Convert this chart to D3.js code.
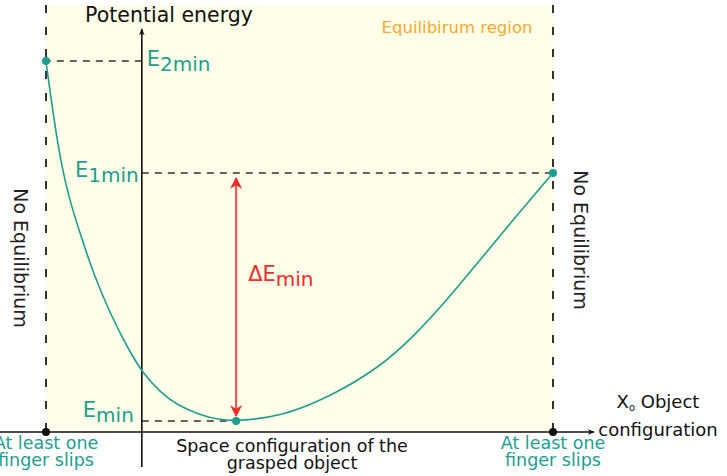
<!DOCTYPE html>
<html>
<head>
<meta charset="utf-8">
<script src="https://cdn.jsdelivr.net/npm/d3@7"></script>
<style>
  body { margin: 0; background: #fff; }
  text { font-family: "DejaVu Sans", Verdana, sans-serif; }
</style>
</head>
<body>
<div id="chart"></div>
<script>
// Object configuration (0 = left slip limit, 100 = right slip limit)
const curveX = [0, 2.4, 4.5, 6.7, 9.3, 12.6, 16.0, 18.9, 22.5, 25.8, 30.4, 34.3, 37.5, 46.2, 56.0, 65.9, 72.4, 79.1, 85.6, 92.1, 100];
// Potential energy at each configuration
const curveE = [92.5, 70.5, 58.5, 49.75, 39.75, 29.75, 21.25, 15, 10, 6.75, 4.25, 3, 2.75, 3.75, 8.75, 16.25, 23.75, 33, 43, 53, 64.75];

// Marked levels
const levels = [
    {name: "E", sub: "2min", x: 0, e: 92.75},
    {name: "E", sub: "1min", x: 100, e: 64.75},
    {name: "E", sub: "min", x: 37.5, e: 2.75}
];
const slipLimits = [0, 100];
const yAxisPos = 18.9;

const width = 727, height = 476;
const teal = "#1d9e8e", red = "#f22a2a", orange = "#f7a92a", dash = "#333";

const svg = d3.select("#chart").append("svg")
    .attr("width", width)
    .attr("height", height);

// Scales
const x = d3.scaleLinear().domain([0, 100]).range([46, 553]);
const y = d3.scaleLinear().domain([0, 100]).range([432, 32]);

// Arrow markers
const defs = svg.append("defs");
defs.append("marker").attr("id", "blackArrow")
    .attr("viewBox", "0 0 10 10").attr("refX", 9).attr("refY", 5)
    .attr("markerWidth", 7).attr("markerHeight", 7).attr("orient", "auto")
    .attr("markerUnits", "userSpaceOnUse")
    .append("path").attr("d", "M0,1 L10,5 L0,9 L3,5 Z").attr("fill", "#111");
defs.append("marker").attr("id", "redArrow")
    .attr("viewBox", "0 0 10 10").attr("refX", 9).attr("refY", 5)
    .attr("markerWidth", 12).attr("markerHeight", 12).attr("orient", "auto-start-reverse")
    .attr("markerUnits", "userSpaceOnUse")
    .append("path").attr("d", "M0,0 L10,5 L0,10 L3,5 Z").attr("fill", red);

// Equilibrium region
svg.append("rect")
    .attr("x", x(0)).attr("y", 5)
    .attr("width", x(100) - x(0)).attr("height", y(0) - 5)
    .attr("fill", "#fefee9");

svg.append("text")
    .attr("x", 457).attr("y", 33)
    .attr("text-anchor", "middle")
    .attr("fill", orange)
    .style("font-size", "16.5px")
    .text("Equilibirum region");

// Vertical dashed limits
svg.selectAll(".limit")
    .data(slipLimits)
    .enter().append("line")
    .attr("class", "limit")
    .attr("x1", d => x(d)).attr("x2", d => x(d))
    .attr("y1", 5).attr("y2", y(0))
    .attr("stroke", dash).attr("stroke-width", 2)
    .attr("stroke-dasharray", "8,14");

// Horizontal dashed level lines to the energy axis
svg.selectAll(".level")
    .data(levels)
    .enter().append("line")
    .attr("class", "level")
    .attr("x1", x(yAxisPos)).attr("x2", d => x(d.x))
    .attr("y1", d => y(d.e)).attr("y2", d => y(d.e))
    .attr("stroke", dash).attr("stroke-width", 1.6)
    .attr("stroke-dasharray", "7,6");

// Axes
svg.append("line")
    .attr("x1", 0).attr("x2", 594)
    .attr("y1", y(0)).attr("y2", y(0))
    .attr("stroke", "#111").attr("stroke-width", 1.6)
    .attr("marker-end", "url(#blackArrow)");
svg.append("line")
    .attr("x1", x(yAxisPos)).attr("x2", x(yAxisPos))
    .attr("y1", 467).attr("y2", 29)
    .attr("stroke", "#111").attr("stroke-width", 1.6)
    .attr("marker-end", "url(#blackArrow)");

// Energy curve
const line = d3.line()
    .x((d, i) => x(curveX[i]))
    .y(d => y(d))
    .curve(d3.curveBasis);
svg.append("path")
    .datum(curveE)
    .attr("d", line)
    .attr("fill", "none")
    .attr("stroke", teal)
    .attr("stroke-width", 1.6);

// Delta E arrow
svg.append("line")
    .attr("x1", x(37.5)).attr("x2", x(37.5))
    .attr("y1", y(63.5)).attr("y2", y(4))
    .attr("stroke", red).attr("stroke-opacity", 0.85).attr("stroke-width", 2)
    .attr("marker-start", "url(#redArrow)")
    .attr("marker-end", "url(#redArrow)");

// Level points
svg.selectAll(".pt")
    .data(levels)
    .enter().append("circle")
    .attr("class", "pt")
    .attr("cx", d => x(d.x)).attr("cy", d => y(d.e))
    .attr("r", 4).attr("fill", teal);

// Slip points on the axis
svg.selectAll(".slip")
    .data(slipLimits)
    .enter().append("circle")
    .attr("class", "slip")
    .attr("cx", d => x(d)).attr("cy", y(0))
    .attr("r", 4).attr("fill", "#111");

// Level labels
function subLabel(px, py, anchor, main, sub, color) {
    const t = svg.append("text")
        .attr("x", px).attr("y", py)
        .attr("text-anchor", anchor)
        .attr("fill", color)
        .style("font-size", "21px");
    t.append("tspan").text(main);
    t.append("tspan").attr("dy", 5).style("font-size", "20px").text(sub);
    return t;
}
subLabel(x(yAxisPos) + 5, y(levels[0].e) + 5, "start", "E", levels[0].sub, teal);
subLabel(x(yAxisPos) - 3, y(levels[1].e) + 4, "end", "E", levels[1].sub, teal);
subLabel(x(yAxisPos) - 8, y(levels[2].e) - 4, "end", "E", levels[2].sub, teal);
subLabel(x(37.5) + 12, 281, "start", "\u0394E", "min", red);

// Axis titles
svg.append("text")
    .attr("x", 169).attr("y", 22)
    .attr("text-anchor", "middle")
    .attr("fill", "#111")
    .style("font-size", "20.5px")
    .text("Potential energy");

const xTitle = svg.append("text")
    .attr("text-anchor", "middle")
    .attr("fill", "#111")
    .style("font-size", "18px");
xTitle.append("tspan").attr("x", 658).attr("y", 408).text("X");
xTitle.append("tspan").attr("dy", 3).style("font-size", "10px").text("o");
xTitle.append("tspan").attr("dy", -3).text(" Object");
xTitle.append("tspan").attr("x", 658).attr("y", 436).text("configuration");

// Bottom labels
function twoLines(px, l1, l2, color, y1, y2) {
    const t = svg.append("text")
        .attr("text-anchor", "middle")
        .attr("fill", color)
        .style("font-size", "17.5px");
    t.append("tspan").attr("x", px).attr("y", y1).text(l1);
    t.append("tspan").attr("x", px).attr("y", y2).text(l2);
}
twoLines(x(0), "At least one", "finger slips", teal, 449, 466);
twoLines(x(100), "At least one", "finger slips", teal, 449, 466);
twoLines(292, "Space configuration of the", "grasped object", "#111", 452, 469);

// No equilibrium side labels
[[14, 258], [574, 240]].forEach(p => {
    svg.append("text")
        .attr("transform", `translate(${p[0]}, ${p[1]}) rotate(90)`)
        .attr("text-anchor", "middle")
        .attr("fill", "#222")
        .style("font-size", "19px")
        .text("No Equilibrium");
});
</script>
</body>
</html>
